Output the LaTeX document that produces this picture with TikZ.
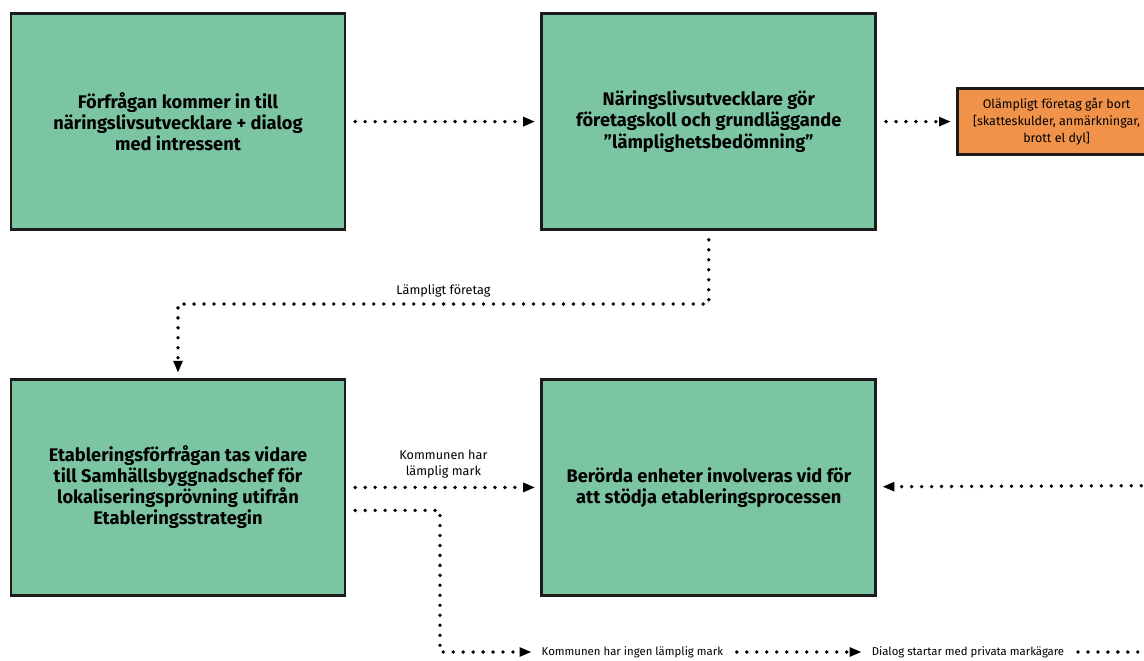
\documentclass[tikz,border=0pt]{standalone}
\usepackage{fontspec}
\setmainfont{Fira Sans}
\usetikzlibrary{
  positioning,
  calc,
  arrows.meta
}

\definecolor{boxgreen}{HTML}{7BC5A3}
\definecolor{boxorange}{HTML}{F0924A}
\definecolor{boxedge}{HTML}{1C1C1C}

\begin{document}
\begin{tikzpicture}[node distance = 3.675cm and 4.85cm,
    >={Triangle[length=0.3cm, width=0.22cm]},
    box/.style = {rectangle, draw=boxedge, line width=2pt, fill=boxgreen,
      minimum width=8.35cm, minimum height=5.4cm, align=center,
      font=\fontsize{13}{15}\selectfont\bfseries},
    note/.style = {align=center, font=\fontsize{9}{11}\selectfont},
    flow/.style = {->, line width=2.7pt, line cap=round,
      dash pattern=on 0pt off 7.1pt, shorten <=0.22cm, shorten >=0.13cm}]
    \useasboundingbox (0,0) rectangle (28.6,-16.5);

    \node[box] at (4.45,-3.04) (1) {Förfrågan kommer in till\\näringslivsutvecklare + dialog\\med intressent};
    \node[box, right = of 1] (2) {Näringslivsutvecklare gör\\företagskoll och grundläggande\\”lämplighetsbedömning”};
    \node[rectangle, draw=boxedge, line width=2pt, fill=boxorange,
      minimum width=4.95cm, minimum height=1.65cm, align=center,
      font=\fontsize{8.9}{12}\selectfont, right = 1.975cm of 2] (3)
      {Olämpligt företag går bort\\{[}skatteskulder, anmärkningar,\\brott el dyl{]}};
    \node[box, below = of 1] (4) {Etableringsförfrågan tas vidare\\till Samhällsbyggnadschef för\\lokaliseringsprövning utifrån\\Etableringsstrategin};
    \node[box, below = of 2] (5) {Berörda enheter involveras vid för\\att stödja etableringsprocessen};

    \coordinate (bend2) at (11,-16.3);
    \node[note, font=\fontsize{8.1}{10}\selectfont] at (15.81,-16.3) (6) {Kommunen har ingen lämplig mark};
    \node[note, font=\fontsize{8.1}{10}\selectfont] at (24.2,-16.3) (7) {Dialog startar med privata markägare};
    \coordinate (out1) at (29,-16.3);
    \coordinate (in1) at (29,-12.14);

    \draw[flow] (1) -- (2);
    \draw[flow] (2) -- (3);
    \draw[flow] (2.south) -- ++(0,-1.825) -| node[pos=0.25, above, note] {Lämpligt företag} (4.north);
    \draw[flow] (4) -- node[above=2pt, note] {Kommunen har\\lämplig mark} (5);
    \draw[flow] ([yshift=-0.575cm]4.east) -| (bend2) -- (6);
    \draw[flow] (6) -- (7);
    \draw[flow, -] (7) -- (out1);
    \draw[flow] (in1) -- (5);
  \end{tikzpicture}
\end{document}
